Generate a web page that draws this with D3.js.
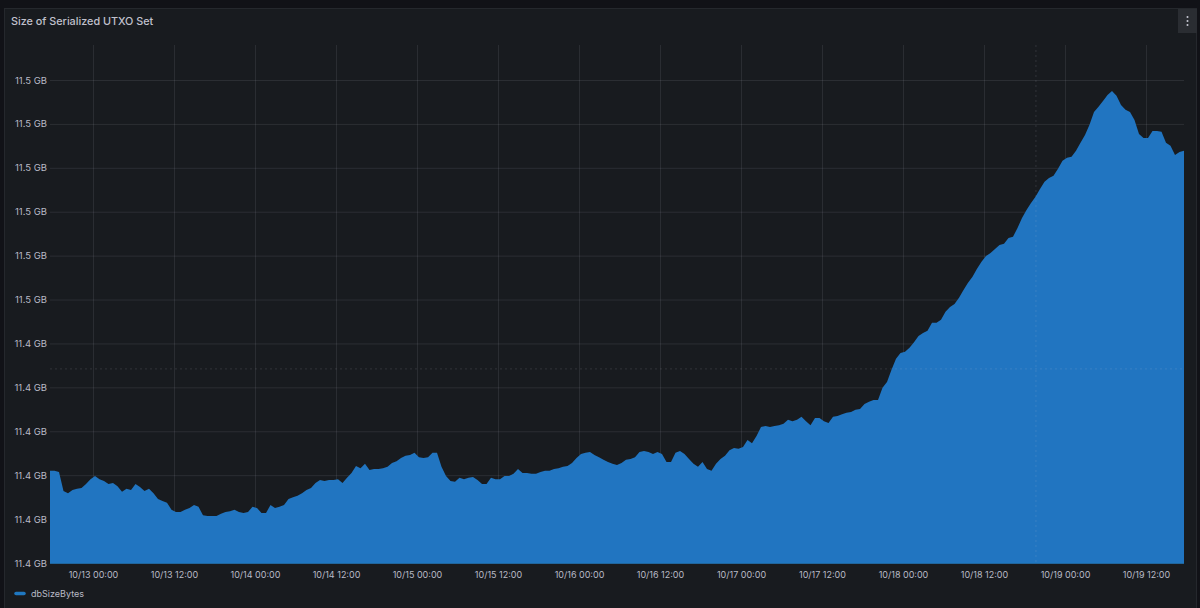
<!DOCTYPE html>
<html>
<head>
<meta charset="utf-8">
<script src="https://cdn.jsdelivr.net/npm/d3@7"></script>
<style>
  html, body { margin: 0; padding: 0; background: #111217; overflow: hidden; }
  text { font-family: Inter, "Noto Sans", sans-serif; }
</style>
</head>
<body>
<script>
// dbSizeBytes in GB, one sample every 40 minutes
const startTime = new Date(2023, 9, 12, 17, 38);
const endTime = new Date(2023, 9, 19, 17, 38);
const sampleMinutes = 40;
const dbSizeGb = [
  11.4210,11.4210,11.4207,11.4164,11.4159,11.4166,11.4169,11.4171,11.4180,11.4191,
  11.4198,11.4191,11.4187,11.4180,11.4182,11.4175,11.4162,11.4169,11.4166,11.4180,
  11.4173,11.4164,11.4169,11.4159,11.4146,11.4141,11.4137,11.4121,11.4116,11.4116,
  11.4121,11.4125,11.4132,11.4128,11.4109,11.4107,11.4107,11.4107,11.4112,11.4116,
  11.4118,11.4121,11.4116,11.4114,11.4116,11.4128,11.4125,11.4114,11.4114,11.4132,
  11.4125,11.4128,11.4132,11.4146,11.4150,11.4153,11.4159,11.4166,11.4171,11.4182,
  11.4189,11.4187,11.4189,11.4189,11.4191,11.4182,11.4194,11.4205,11.4221,11.4216,
  11.4226,11.4212,11.4214,11.4214,11.4216,11.4219,11.4228,11.4232,11.4239,11.4244,
  11.4246,11.4251,11.4241,11.4239,11.4241,11.4251,11.4251,11.4219,11.4198,11.4187,
  11.4185,11.4194,11.4191,11.4194,11.4196,11.4189,11.4180,11.4180,11.4194,11.4191,
  11.4191,11.4198,11.4198,11.4203,11.4214,11.4205,11.4205,11.4203,11.4203,11.4207,
  11.4210,11.4210,11.4214,11.4216,11.4219,11.4221,11.4228,11.4239,11.4248,11.4251,
  11.4253,11.4246,11.4241,11.4235,11.4230,11.4226,11.4223,11.4228,11.4235,11.4237,
  11.4241,11.4253,11.4255,11.4253,11.4248,11.4253,11.4248,11.4230,11.4230,11.4251,
  11.4255,11.4248,11.4237,11.4226,11.4219,11.4230,11.4214,11.4210,11.4226,11.4237,
  11.4244,11.4257,11.4262,11.4260,11.4264,11.4280,11.4273,11.4289,11.4310,11.4312,
  11.4310,11.4312,11.4314,11.4317,11.4326,11.4323,11.4326,11.4333,11.4323,11.4314,
  11.4330,11.4330,11.4323,11.4319,11.4333,11.4335,11.4339,11.4342,11.4344,11.4349,
  11.4351,11.4362,11.4367,11.4371,11.4371,11.4399,11.4412,11.4440,11.4465,11.4478,
  11.4481,11.4490,11.4503,11.4517,11.4524,11.4529,11.4547,11.4547,11.4554,11.4572,
  11.4583,11.4590,11.4604,11.4622,11.4638,11.4652,11.4670,11.4686,11.4699,11.4706,
  11.4715,11.4724,11.4727,11.4740,11.4743,11.4763,11.4786,11.4804,11.4820,11.4834,
  11.4852,11.4868,11.4877,11.4882,11.4898,11.4916,11.4923,11.4925,11.4939,11.4957,
  11.4975,11.4998,11.5027,11.5039,11.5052,11.5066,11.5075,11.5064,11.5043,11.5032,
  11.5027,11.5009,11.4977,11.4968,11.4968,11.4984,11.4984,11.4982,11.4957,11.4950,
  11.4929,11.4936,11.4939
];
const yTicks = [11.40,11.41,11.42,11.43,11.44,11.45,11.46,11.47,11.48,11.49,11.50,11.51];
const xTicks = [
  new Date(2023,9,13,0), new Date(2023,9,13,12), new Date(2023,9,14,0), new Date(2023,9,14,12),
  new Date(2023,9,15,0), new Date(2023,9,15,12), new Date(2023,9,16,0), new Date(2023,9,16,12),
  new Date(2023,9,17,0), new Date(2023,9,17,12), new Date(2023,9,18,0), new Date(2023,9,18,12),
  new Date(2023,9,19,0), new Date(2023,9,19,12)
];
// hover crosshair left in the screenshot
const crossTime = new Date(2023, 9, 18, 19, 42);
const crossValue = 11.4442;
const seriesName = "dbSizeBytes";
const panelTitle = "Size of Serialized UTXO Set";

const width = 1200, height = 608;
const margin = {top: 80, right: 16, bottom: 45, left: 50};
const gridColor = "rgba(204,204,220,0.11)";
const textColor = "#b9bac6";
const fillColor = "#2175c1";

let svg = d3.select("body").append("svg")
  .attr("width", width)
  .attr("height", height)
  .style("display", "block");

// panel
svg.append("rect").attr("x", 4.5).attr("y", 8.5).attr("width", 1192).attr("height", 610)
  .attr("fill", "#181b1f").attr("stroke", "#25282d");
svg.append("rect").attr("x", 1178).attr("y", 9).attr("width", 19).attr("height", 24).attr("fill", "#2a2d32");
[17, 21, 25].forEach(function(cy) {
  svg.append("circle").attr("cx", 1187.5).attr("cy", cy).attr("r", 1).attr("fill", "#c8c9d4");
});
svg.append("text").attr("x", 11).attr("y", 25)
  .attr("font-size", 10.8).attr("font-weight", 500).attr("fill", "#c0c1cd")
  .text(panelTitle);

let x = d3.scaleTime()
  .domain([startTime, endTime])
  .range([margin.left, width - margin.right]);
let y = d3.scaleLinear()
  .domain([yTicks[0], yTicks[yTicks.length - 1]])
  .range([height - margin.bottom, margin.top]);

let data = dbSizeGb.map(function(v, i) {
  return {time: new Date(startTime.getTime() + i * sampleMinutes * 60000), value: v};
});

// grid lines come from the axes' own tick size
let yAxis = svg.append("g")
  .attr("transform", "translate(" + margin.left + ",0)")
  .call(d3.axisLeft(y).tickValues(yTicks)
    .tickSize(-(width - margin.left - margin.right))
    .tickPadding(3)
    .tickFormat(function(d) { return d.toFixed(1) + " GB"; }));
let xAxis = svg.append("g")
  .attr("transform", "translate(0," + (height - margin.bottom) + ")")
  .call(d3.axisBottom(x).tickValues(xTicks)
    .tickSize(-(height - margin.bottom - 45))
    .tickPadding(9)
    .tickFormat(d3.timeFormat("%m/%d %H:%M")));
[yAxis, xAxis].forEach(function(axis) {
  axis.select(".domain").remove();
  axis.selectAll("line").attr("stroke", gridColor);
  axis.selectAll("text")
    .attr("fill", textColor)
    .style("font-family", "Inter, sans-serif");
});
yAxis.selectAll("text").style("font-size", "9.5px");
xAxis.selectAll("text").style("font-size", "9px");

// area
let area = d3.area()
  .curve(d3.curveLinear)
  .x(function(d) { return x(d.time); })
  .y0(y(yTicks[0]))
  .y1(function(d) { return y(d.value); });
svg.append("path").datum(data)
  .attr("d", area)
  .attr("fill", fillColor);
svg.append("line")
  .attr("x1", margin.left).attr("x2", width - margin.right)
  .attr("y1", y(yTicks[0])).attr("y2", y(yTicks[0]))
  .attr("stroke", "#1f78c1").attr("stroke-width", 1.5);

// crosshair
svg.append("line")
  .attr("x1", x(crossTime)).attr("x2", x(crossTime))
  .attr("y1", 45).attr("y2", y(yTicks[0]))
  .attr("stroke", "rgba(204,204,220,0.14)").attr("stroke-dasharray", "2,3");
svg.append("line")
  .attr("x1", margin.left).attr("x2", width - margin.right)
  .attr("y1", y(crossValue)).attr("y2", y(crossValue))
  .attr("stroke", "rgba(204,204,220,0.14)").attr("stroke-dasharray", "2,3");

// legend
svg.append("line")
  .attr("x1", 16).attr("x2", 24).attr("y1", 593.5).attr("y2", 593.5)
  .attr("stroke", "#1f78c1").attr("stroke-width", 3.5).attr("stroke-linecap", "round");
svg.append("text").attr("x", 31).attr("y", 596.5)
  .attr("font-size", 9).attr("fill", textColor)
  .text(seriesName);
</script>
</body>
</html>
